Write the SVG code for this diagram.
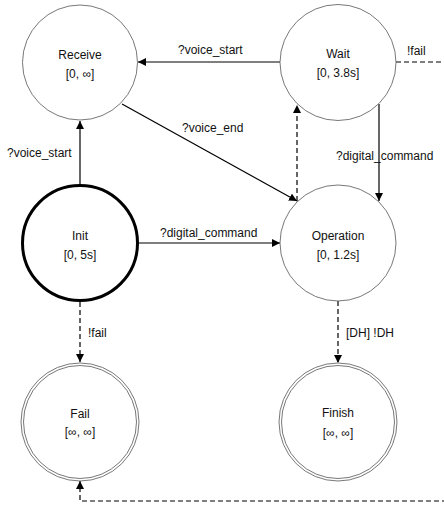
<svg xmlns="http://www.w3.org/2000/svg" width="444" height="505" viewBox="0 0 444 505">
<defs>
<marker id="arr" viewBox="0 0 10 10" refX="10" refY="5" markerWidth="8" markerHeight="8" markerUnits="userSpaceOnUse" orient="auto">
<path d="M0,0 L10,5 L0,10 z" fill="#000"/>
</marker>
<style>
.node{fill:#fff;stroke:#555;stroke-width:0.8}
.init{fill:#fff;stroke:#000;stroke-width:3}
.t{font-family:"Liberation Sans",Arial,sans-serif;font-size:12px;fill:#111;text-anchor:middle}
.l{font-family:"Liberation Sans",Arial,sans-serif;font-size:12px;fill:#111}
.e{fill:none;stroke:#000;stroke-width:1.2}
.d{fill:none;stroke:#000;stroke-width:1.2;stroke-dasharray:5,3}
</style>
</defs>
<rect width="444" height="505" fill="#fff"/>
<g id="connectors">
<path class="e" d="M280,62 H138" marker-end="url(#arr)"/>
<path class="d" d="M396,62 H450 V501 H80 V481" marker-end="url(#arr)"/>
<path class="e" d="M122,104 L297,201" marker-end="url(#arr)"/>
<path class="d" d="M297,201 V105" marker-end="url(#arr)"/>
<path class="e" d="M379,104 V201" marker-end="url(#arr)"/>
<path class="e" d="M80,184 V121" marker-end="url(#arr)"/>
<path class="e" d="M138,243 H280" marker-end="url(#arr)"/>
<path class="d" d="M80,302 V362" marker-end="url(#arr)"/>
<path class="d" d="M338,301 V363" marker-end="url(#arr)"/>
<text class="l" x="178" y="54">?voice_start</text>
<text class="l" x="407" y="55">!fail</text>
<text class="l" x="182" y="132">?voice_end</text>
<text class="l" x="336" y="160">?digital_command</text>
<text class="l" x="7" y="157">?voice_start</text>
<text class="l" x="160" y="237">?digital_command</text>
<text class="l" x="88" y="337">!fail</text>
<text class="l" x="346" y="337">[DH] !DH</text>
</g>
<g id="receive">
<circle class="node" cx="80" cy="62.5" r="57.5"/>
<text class="t" x="80" y="59">Receive</text>
<text class="t" x="80" y="78">[0, ∞]</text>
</g>
<g id="wait">
<circle class="node" cx="338" cy="62.5" r="58"/>
<text class="t" x="338" y="58">Wait</text>
<text class="t" x="338" y="77">[0, 3.8s]</text>
</g>
<g id="init">
<circle class="init" cx="80" cy="243" r="57.5"/>
<text class="t" x="80" y="240">Init</text>
<text class="t" x="80" y="259">[0, 5s]</text>
</g>
<g id="operation">
<circle class="node" cx="338" cy="243" r="58"/>
<text class="t" x="338" y="240">Operation</text>
<text class="t" x="338" y="259">[0, 1.2s]</text>
</g>
<g id="fail">
<circle class="node" cx="80" cy="422" r="59"/>
<circle class="node" cx="80" cy="422" r="56.5"/>
<text class="t" x="80" y="418">Fail</text>
<text class="t" x="80" y="436">[∞, ∞]</text>
</g>
<g id="finish">
<circle class="node" cx="338" cy="422" r="59"/>
<circle class="node" cx="338" cy="422" r="56.5"/>
<text class="t" x="338" y="417">Finish</text>
<text class="t" x="338" y="437">[∞, ∞]</text>
</g>
</svg>
